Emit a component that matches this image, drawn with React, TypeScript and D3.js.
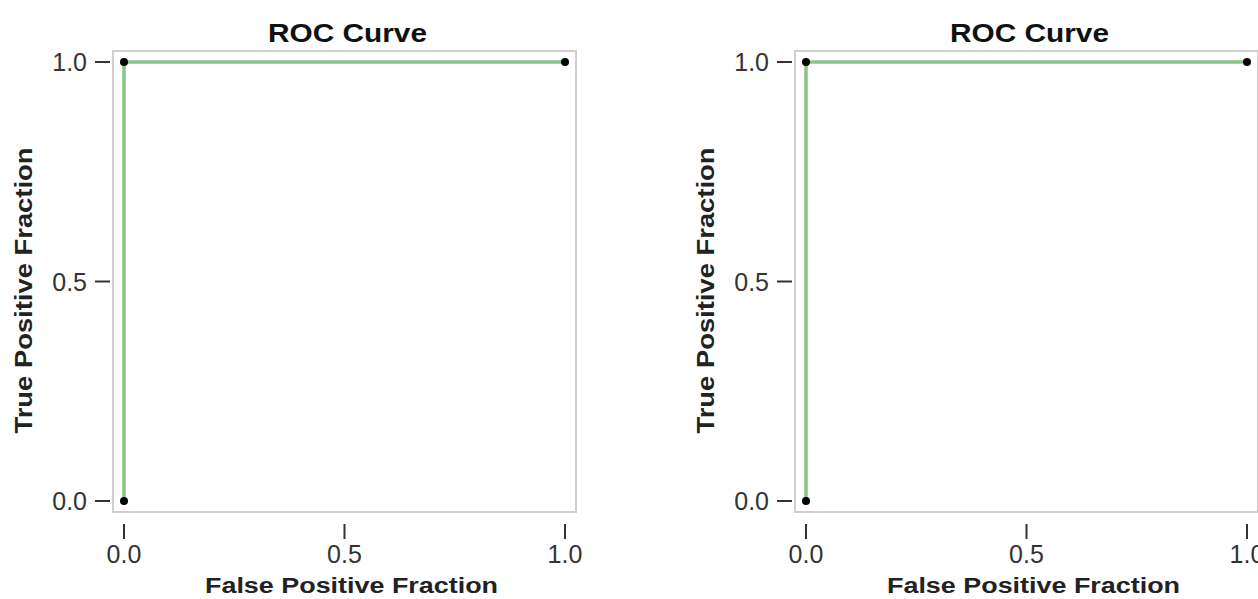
import React from "react";
import * as d3 from "d3";

const fpr = [0, 0, 1];
const tpr = [0, 1, 1];
const ticks = [0, 0.5, 1.0];
const tickLabels = ["0.0", "0.5", "1.0"];
const title = "ROC Curve";
const xLabel = "False Positive Fraction";
const yLabel = "True Positive Fraction";
const panelOffsets = [0, 682];

const W = 1258;
const H = 599;

function Panel({ dx }: { dx: number }) {
  const x = d3.scaleLinear().domain([0, 1]).range([124 + dx, 565 + dx]);
  const y = d3.scaleLinear().domain([0, 1]).range([501, 62]);
  const pts = fpr.map((f, i) => [f, tpr[i]] as [number, number]);
  const line = d3
    .line<[number, number]>()
    .x((d) => x(d[0]))
    .y((d) => y(d[1]))(pts);
  const pad = 11;
  const fx0 = x(0) - pad;
  const fx1 = x(1) + pad;
  const fy0 = y(1) - pad;
  const fy1 = y(0) + pad;
  const cx = (fx0 + fx1) / 2;
  const cy = (fy0 + fy1) / 2;
  return (
    <g>
      <rect
        x={fx0}
        y={fy0}
        width={fx1 - fx0}
        height={fy1 - fy0}
        fill="#fff"
        stroke="#cfcfcf"
        strokeWidth={2}
      />
      <path d={line || ""} fill="none" stroke="#86c586" strokeWidth={3.5} />
      {pts.map((p, i) => (
        <circle key={i} cx={x(p[0])} cy={y(p[1])} r={4} fill="#000" />
      ))}
      {ticks.map((t, i) => (
        <g key={"y" + i}>
          <line x1={fx0 - 18} x2={fx0 - 3} y1={y(t)} y2={y(t)} stroke="#333" strokeWidth={2} />
          <text
            x={fx0 - 26}
            y={y(t)}
            textAnchor="end"
            dominantBaseline="central"
            fontFamily="Liberation Sans, Arial, sans-serif"
            fontSize={25}
            fill="#333"
          >
            {tickLabels[i]}
          </text>
        </g>
      ))}
      {ticks.map((t, i) => (
        <g key={"x" + i}>
          <line x1={x(t)} x2={x(t)} y1={fy1 + 12} y2={fy1 + 27} stroke="#333" strokeWidth={2} />
          <text
            x={x(t)}
            y={563}
            textAnchor="middle"
            fontFamily="Liberation Sans, Arial, sans-serif"
            fontSize={25}
            fill="#333"
          >
            {tickLabels[i]}
          </text>
        </g>
      ))}
      <text
        x={cx + 3}
        y={42}
        textAnchor="middle"
        fontFamily="Liberation Sans, Arial, sans-serif"
        fontWeight="bold"
        fontSize={26}
        textLength={159}
        lengthAdjust="spacingAndGlyphs"
        fill="#111"
      >
        {title}
      </text>
      <text
        x={cx + 7}
        y={593}
        textAnchor="middle"
        fontFamily="Liberation Sans, Arial, sans-serif"
        fontWeight="bold"
        fontSize={22}
        textLength={293}
        lengthAdjust="spacingAndGlyphs"
        fill="#222"
      >
        {xLabel}
      </text>
      <text
        transform={`translate(${32 + dx},${cy + 9}) rotate(-90)`}
        textAnchor="middle"
        fontFamily="Liberation Sans, Arial, sans-serif"
        fontWeight="bold"
        fontSize={23}
        textLength={286}
        lengthAdjust="spacingAndGlyphs"
        fill="#222"
      >
        {yLabel}
      </text>
    </g>
  );
}

export default function App() {
  return (
    <svg
      width={W}
      height={H}
      style={{ position: "absolute", left: 0, top: 0, display: "block", background: "#fff" }}
    >
      {panelOffsets.map((dx, i) => (
        <Panel key={i} dx={dx} />
      ))}
    </svg>
  );
}
